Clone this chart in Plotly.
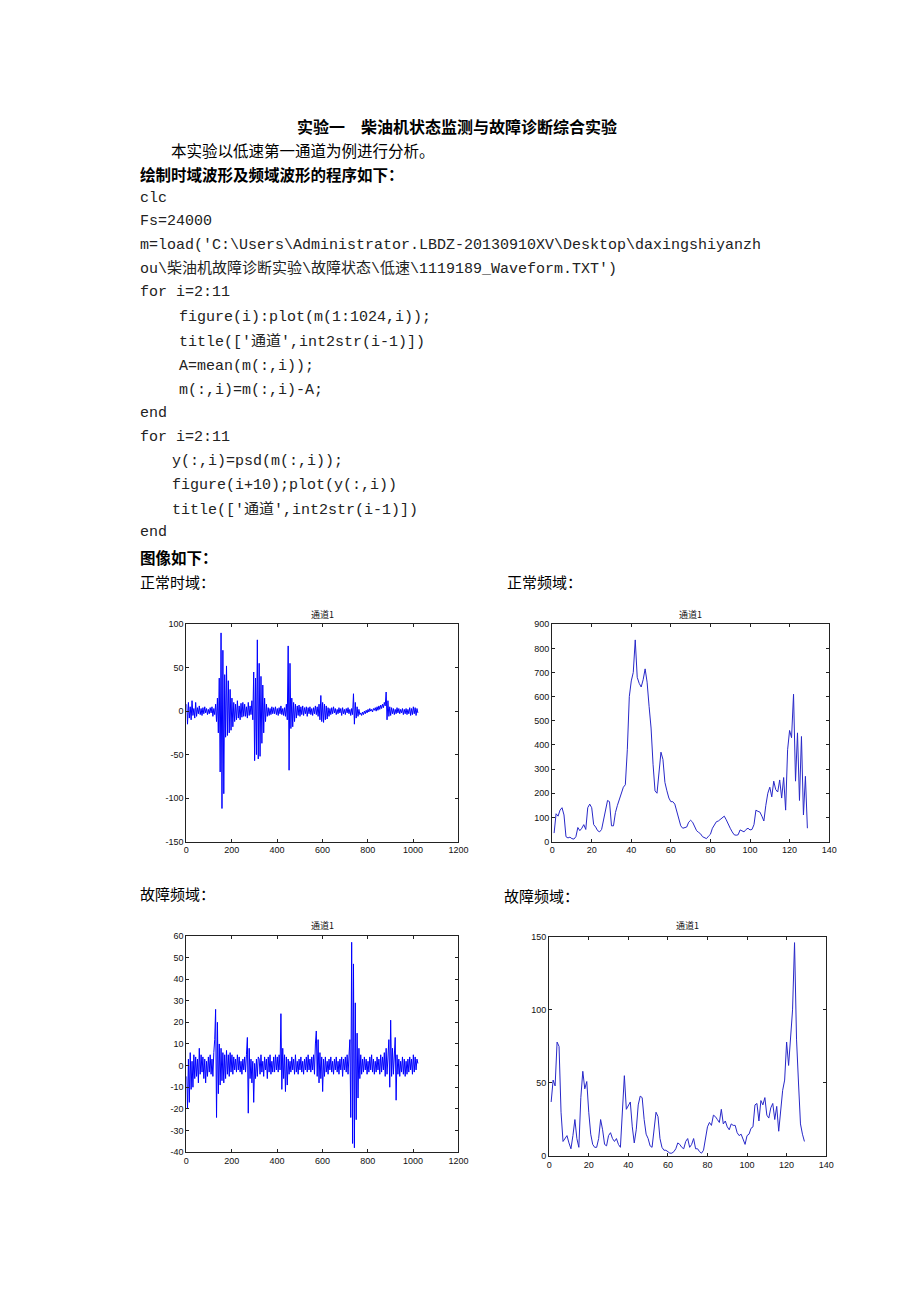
import plotly.graph_objects as go

W, H = 920, 1302

# ---------------- data ----------------
sample_idx = list(range(1, 1024, 4))   # sample index of each read value
freq_idx = list(range(1, 130))         # psd bin index

normal_time = [
    8, -15, 10, -8, 5, -10, 12, -5, 3, -8, 10, -6, 4, -3, 6, -4,
    3, -5, 4, -3, 5, -2, 3, -4, 2, -3, 4, -2, 5, -6, 3, -4,
    8, -12, 15, -25, 38, -70, 90, -112, 70, -95, 42, -30, 52, -28, 35, -25,
    25, -22, 15, -18, 10, -12, 8, -10, 12, -8, 6, -10, 9, -7, 10, -6,
    8, -6, 5, -8, 10, -5, 6, -4, 12, -10, 45, -57, 38, -50, 82, -55,
    55, -52, 40, -37, 30, -25, 15, -12, 8, -6, 4, -5, 3, -4, 5, -3,
    4, -3, 5, -4, 3, -5, 4, -3, 6, -4, 3, -5, 4, -6, 8, -10,
    75, -68, 55, -20, 15, -18, 10, -12, 8, -8, 6, -5, 7, -6, 5, -4,
    6, -5, 4, -3, 5, -6, 4, -3, 5, -4, 3, -5, 4, -3, 6, -4,
    5, -6, 8, -10, 18, -12, 10, -13, 8, -10, 6, -9, 4, -6, 3, -4,
    4, -3, 5, -2, 3, -4, 2, -3, 4, -2, 3, -5, 4, -3, 2, -4,
    3, -2, 4, -3, 2, -5, 3, -4, 20, -15, 10, -8, 5, -6, 2, -4,
    -2, -5, -1, -4, 0, -3, 1, -2, 2, -1, 3, 0, 2, -1, 3, 1,
    4, 0, 5, 1, 6, 2, 7, 3, 8, 4, 10, 6, 22, -10, 12, -6,
    5, -5, 4, -3, 3, -4, 2, -3, 4, -2, 3, -3, 2, -2, 3, -4,
    2, -3, 3, -4, 2, -3, 4, -5, 3, -4, 5, -3, 4, -5, 3, -2,
]

fault_time = [
    -5, -20, 3, -17, 6, -11, 2, -10, 5, -6, 4, -5, 3, -8, 8, -4,
    5, -3, 4, -6, 3, -8, 2, -5, 4, -3, 5, -4, 3, -5, 6, 12,
    26, -24, 20, -13, 10, -9, 8, -7, 6, -8, 5, -6, 7, -4, 5, -5,
    6, -3, 5, -4, 4, -2, 3, -3, 5, -2, 4, -3, 2, -4, 3, -2,
    4, -3, 5, 13, -22, 8, -6, 3, -8, 2, -17, 1, -6, 3, -5, 4,
    3, -4, 5, -3, 2, -5, 4, -2, 3, -6, 4, -3, 5, -4, 2, -3,
    4, -3, 5, -2, 4, -3, 5, -2, 24, -11, 8, -6, 5, -12, 4, -9,
    3, -4, 2, -3, 4, -2, 3, -4, 5, -3, 2, -4, 3, -2, 4, -3,
    2, -4, 3, -2, 4, -3, 5, -2, 3, -3, 4, -2, 5, -4, 10, 16,
    -5, 12, -8, 6, -6, 4, -12, 3, -5, 4, -3, 2, -4, 3, -2, 4,
    -3, 2, -4, 3, -2, 4, -3, 2, -4, 3, -2, 4, -5, 3, -2, 4,
    -3, 5, -4, 6, 12, -24, 57, -36, 47, -38, 29, -25, 15, -15, 8, -6,
    5, -4, 3, -3, 4, -2, 3, -4, 2, -3, 4, -2, 5, -3, 3, -4,
    2, -3, 4, -2, 3, -4, 5, -3, 4, -2, 6, -5, 8, -4, 5, 12,
    -10, 21, -5, 8, -4, 6, 13, -16, 5, -4, 3, -5, 2, -3, 4, -4,
    3, -5, 2, -4, 3, -3, 4, -2, 3, -4, 5, -3, 4, -2, 3, 1,
]

normal_freq = [
    35, 115, 105, 130, 140, 110, 20, 15, 18, 12,
    10, 20, 58, 45, 55, 70, 50, 140, 155, 140,
    70, 60, 45, 40, 50, 95, 130, 170, 165, 65,
    65, 120, 150, 175, 205, 225, 235, 380, 600, 665,
    700, 835, 680, 655, 640, 670, 715, 660, 560, 470,
    320, 210, 200, 300, 370, 340, 245, 210, 180, 165,
    165, 155, 125, 95, 65, 55, 58, 60, 80, 88,
    80, 60, 45, 38, 32, 20, 15, 12, 22, 30,
    55, 70, 82, 85, 92, 100, 105, 90, 70, 55,
    40, 28, 26, 28, 48, 45, 40, 50, 55, 48,
    50, 70, 130, 125, 122, 105, 85, 150, 200, 225,
    185, 250, 215, 205, 255, 180, 265, 130, 380, 460,
    430, 610, 250, 450, 170, 435, 110, 270, 55,
]

fault_freq = [
    37, 52, 48, 78, 75, 30, 10, 12, 14, 9,
    5, 14, 25, 12, 6, 40, 58, 46, 51, 30,
    15, 8, 6, 6, 12, 25, 18, 8, 7, 14,
    16, 12, 10, 12, 8, 6, 35, 55, 32, 35,
    37, 20, 9, 18, 35, 41, 40, 25, 15, 12,
    7, 6, 20, 30, 27, 12, 6, 4, 4, 3,
    2, 2, 3, 5, 9, 8, 6, 5, 10, 12,
    6, 8, 12, 5, 5, 3, 2, 4, 12, 20,
    23, 21, 28, 27, 25, 23, 32, 22, 24, 20,
    18, 22, 21, 21, 16, 14, 15, 12, 8, 14,
    15, 19, 20, 35, 36, 24, 38, 35, 40, 28,
    26, 33, 36, 25, 34, 17, 32, 45, 52, 78,
    62, 85, 100, 146, 80, 50, 22, 15, 10,
]

time_xticks = [0, 200, 400, 600, 800, 1000, 1200]
freq_xticks = [0, 20, 40, 60, 80, 100, 120, 140]
normal_time_yticks = [-150, -100, -50, 0, 50, 100]
normal_freq_yticks = [0, 100, 200, 300, 400, 500, 600, 700, 800, 900]
fault_time_yticks = [-40, -30, -20, -10, 0, 10, 20, 30, 40, 50, 60]
fault_freq_yticks = [0, 50, 100, 150]

panel_title = "通道1"

# ---------------- layout helpers ----------------
def fx(p):
    return p / W

def fy(p):
    return 1 - p / H

TICK_FONT = dict(family="Liberation Sans, Arial, sans-serif", size=9, color="#111")

def axis(dom, rng, ticks):
    return dict(
        domain=dom, range=rng, tickvals=ticks, ticktext=[str(t) for t in ticks],
        showgrid=False, zeroline=False, showline=True, mirror="ticks",
        linecolor="#222", linewidth=1, ticks="inside", ticklen=3,
        tickcolor="#222", tickfont=TICK_FONT, fixedrange=True,
    )

fig = go.Figure()

fig.add_trace(go.Scatter(x=sample_idx, y=normal_time, mode="lines",
                         line=dict(color="#0000ff", width=1), xaxis="x", yaxis="y",
                         hoverinfo="skip", showlegend=False))
fig.add_trace(go.Scatter(x=freq_idx, y=normal_freq, mode="lines",
                         line=dict(color="#2828c8", width=1), xaxis="x2", yaxis="y2",
                         hoverinfo="skip", showlegend=False))
fig.add_trace(go.Scatter(x=sample_idx, y=fault_time, mode="lines",
                         line=dict(color="#0000ff", width=1), xaxis="x3", yaxis="y3",
                         hoverinfo="skip", showlegend=False))
fig.add_trace(go.Scatter(x=freq_idx, y=fault_freq, mode="lines",
                         line=dict(color="#2828c8", width=1), xaxis="x4", yaxis="y4",
                         hoverinfo="skip", showlegend=False))

# panel pixel boxes: (left, right, top, bottom)
boxes = {
    1: (186, 462, 624, 843),
    2: (557, 838, 624, 843),
    3: (186, 462, 938, 1156),
    4: (554, 835, 939, 1160),
}

def xd(b):
    return [fx(b[0]), fx(b[1])]

def yd(b):
    return [fy(b[3]), fy(b[2])]

layout = dict(
    width=W, height=H, margin=dict(l=0, r=0, t=0, b=0),
    paper_bgcolor="white", plot_bgcolor="white", showlegend=False,
    xaxis=dict(axis(xd(boxes[1]), [0, 1200], time_xticks), anchor="y"),
    yaxis=dict(axis(yd(boxes[1]), [-150, 100], normal_time_yticks), anchor="x"),
    xaxis2=dict(axis(xd(boxes[2]), [0, 140], freq_xticks), anchor="y2"),
    yaxis2=dict(axis(yd(boxes[2]), [0, 900], normal_freq_yticks), anchor="x2"),
    xaxis3=dict(axis(xd(boxes[3]), [0, 1200], time_xticks), anchor="y3"),
    yaxis3=dict(axis(yd(boxes[3]), [-40, 60], fault_time_yticks), anchor="x3"),
    xaxis4=dict(axis(xd(boxes[4]), [0, 140], freq_xticks), anchor="y4"),
    yaxis4=dict(axis(yd(boxes[4]), [0, 150], fault_freq_yticks), anchor="x4"),
)
fig.update_layout(**layout)

CJK = "Noto Sans CJK SC, sans-serif"
MONO = "Liberation Mono, Courier New, Noto Sans CJK SC, monospace"

anns = []

def text(s, left, yc, size=15, family=CJK, bold=False, color="#000"):
    anns.append(dict(
        text=("<b>%s</b>" % s) if bold else s,
        x=fx(left - 2), y=fy(yc), xref="paper", yref="paper",
        xanchor="left", yanchor="middle", showarrow=False,
        font=dict(family=family, size=size, color=color),
    ))

text("实验一　柴油机状态监测与故障诊断综合实验", 298, 122, size=16, bold=True)
text("本实验以低速第一通道为例进行分析。", 170, 146, size=15.5)
text("绘制时域波形及频域波形的程序如下：", 139, 170, size=15.5, bold=True)

code = [
    ("clc", 139, 195),
    ("Fs=24000", 139, 218),
    (r"m=load('C:\Users\Administrator.LBDZ-20130910XV\Desktop\daxingshiyanzh", 139, 242),
    (r"ou\柴油机故障诊断实验\故障状态\低速\1119189_Waveform.TXT')", 139, 266),
    ("for i=2:11", 139, 290),
    ("figure(i):plot(m(1:1024,i));", 179, 315),
    ("title(['通道',int2str(i-1)])", 179, 340),
    ("A=mean(m(:,i));", 178, 364),
    ("m(:,i)=m(:,i)-A;", 178, 388),
    ("end", 139, 412),
    ("for i=2:11", 139, 436),
    ("y(:,i)=psd(m(:,i));", 171, 460),
    ("figure(i+10);plot(y(:,i))", 171, 484),
    ("title(['通道',int2str(i-1)])", 171, 509),
    ("end", 139, 532),
]
for s, l, yc in code:
    text(s, l, yc, size=15, family=MONO, color="#222")

text("图像如下：", 139, 556, size=15.5, bold=True)
text("正常时域：", 139, 581, size=15)
text("正常频域：", 511, 581, size=15)
text("故障频域：", 139, 895, size=15)
text("故障频域：", 508, 897, size=15)

# panel titles
for k, yc in ((1, 614), (2, 614), (3, 928), (4, 928)):
    b = boxes[k]
    anns.append(dict(
        text=panel_title, x=fx((b[0] + b[1]) / 2), y=fy(yc),
        xref="paper", yref="paper", xanchor="center", yanchor="middle",
        showarrow=False, font=dict(family=CJK, size=9, color="#111"),
    ))

fig.update_layout(annotations=anns)

fig.write_html("out.html", config={"displayModeBar": False})
